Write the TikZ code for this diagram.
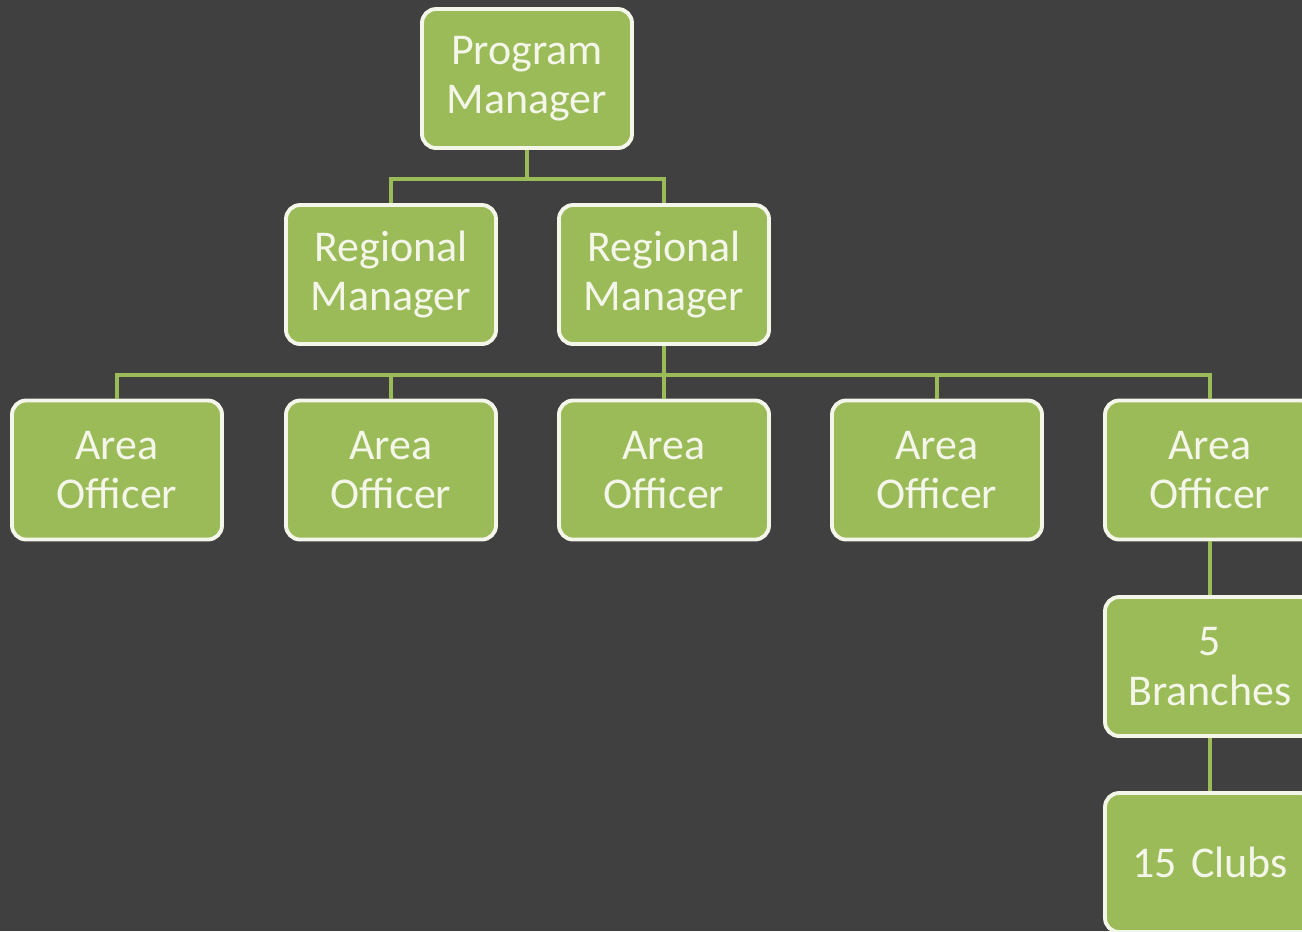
\documentclass[tikz,border=0pt]{standalone}
\usepackage{fontspec}
\setmainfont{Carlito}
\usepackage{tikz}
\usetikzlibrary{positioning}
\definecolor{leafgreen}{HTML}{9BBB59}
\definecolor{slate}{HTML}{404040}
\definecolor{cream}{HTML}{F4F6E9}

\begin{document}
\begin{tikzpicture}[
  font=\fontsize{12.5}{14}\selectfont,
  post/.style={draw=cream, line width=1.1pt, fill=leafgreen, rounded corners=4pt,
    minimum width=2.1cm, minimum height=1.39cm, text width=2.05cm,
    align=center, text=cream, inner sep=0pt},
  link/.style={draw=leafgreen, line width=1pt}
]
% Background
\fill[slate] (0,0) rectangle (13.02,-9.31);
\useasboundingbox (0,0) rectangle (13.02,-9.31);

% Top level
\node[post] (pm) at (5.27,-0.785) {Program\\Manager};

% Regional managers
\node[post] (rm1) at (3.91,-2.745) {Regional\\Manager};
\node[post] (rm2) at (6.64,-2.745) {Regional\\Manager};

% Area officers
\foreach \x [count=\i] in {1.17,3.91,6.64,9.37,12.10}
  \node[post] (ao\i) at (\x,-4.70) {Area\\Officer};

% Branches and clubs
\node[post] (br) at (12.10,-6.665) {5\\Branches};
\node[post] (cl) at (12.10,-8.625) {15 Clubs};

% Connectors
\draw[link] (pm.south) -- ++(0,-0.29) -| (rm1.north);
\draw[link] (pm.south) -- ++(0,-0.29) -| (rm2.north);
\foreach \i in {1,...,5}
  \draw[link] (rm2.south) -- ++(0,-0.29) -| (ao\i.north);
\draw[link] (ao5) -- (br);
\draw[link] (br) -- (cl);
\end{tikzpicture}
\end{document}
